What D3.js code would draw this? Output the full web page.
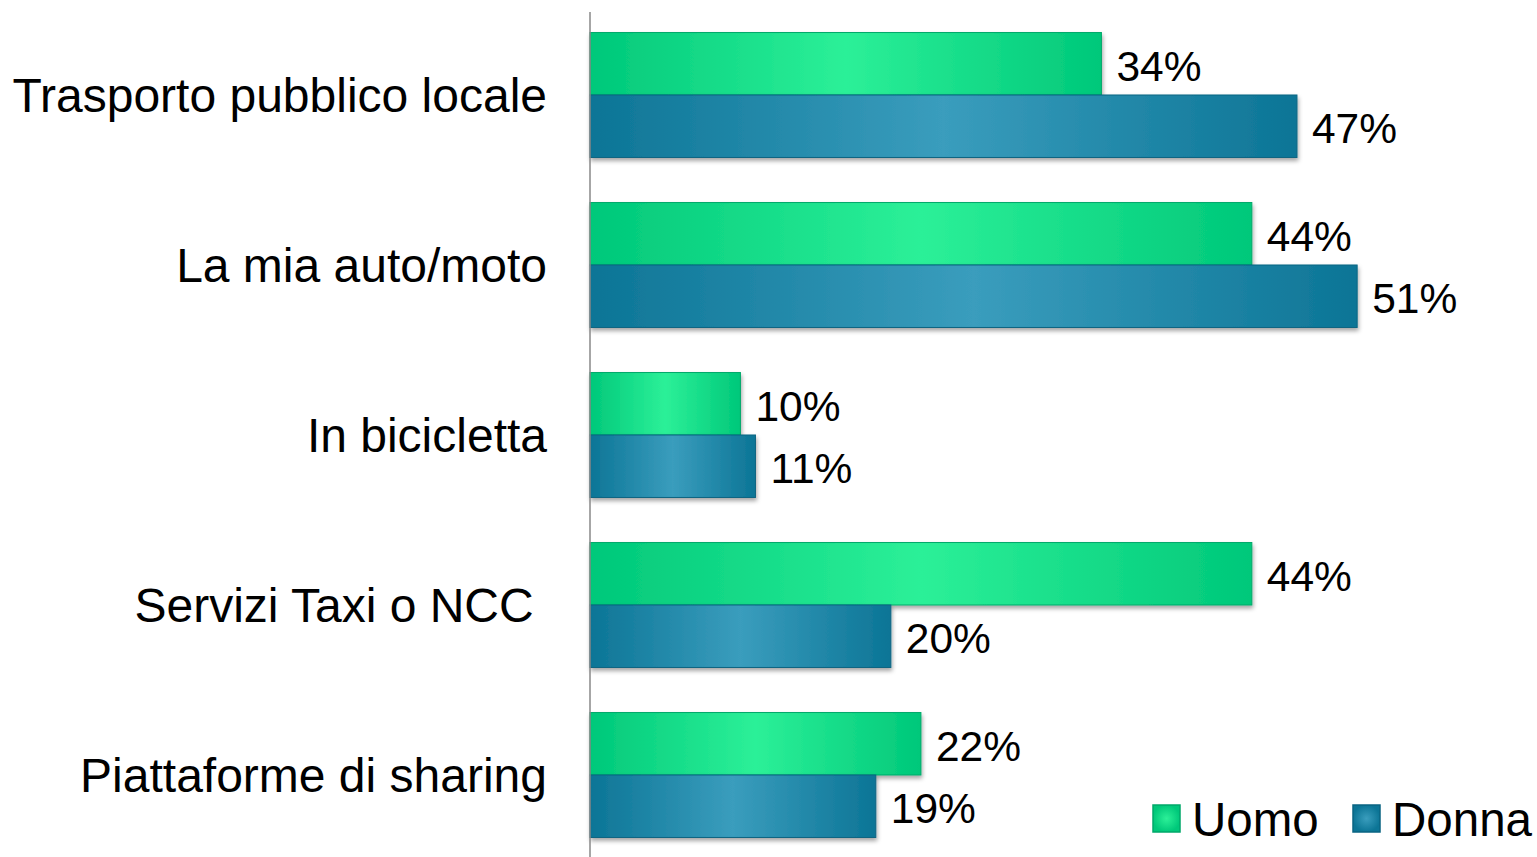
<!DOCTYPE html>
<html><head><meta charset="utf-8">
<script src="https://cdn.jsdelivr.net/npm/d3@7"></script>
<style>
html,body{margin:0;padding:0;background:#fff;}
svg{display:block;font-family:"Liberation Sans",Arial,sans-serif;}
</style></head>
<body>
<svg id="chart" width="1537" height="857"></svg>
<script>
const categories = ["Trasporto pubblico locale","La mia auto/moto","In bicicletta","Servizi Taxi o NCC ","Piattaforme di sharing"];
const seriesNames = ["Uomo","Donna"];
const uomo = [34,44,10,44,22];
const donna = [47,51,11,20,19];
const valueLabels = { Uomo: uomo.map(v=>v+"%"), Donna: donna.map(v=>v+"%") };

const svg = d3.select("#chart");
const defs = svg.append("defs");
function grad(id, edge, mid){
  const g = defs.append("linearGradient").attr("id",id).attr("x1","0%").attr("x2","100%").attr("y1","0%").attr("y2","0%");
  g.append("stop").attr("offset","0%").attr("stop-color",edge);
  g.append("stop").attr("offset","50%").attr("stop-color",mid);
  g.append("stop").attr("offset","100%").attr("stop-color",edge);
}
grad("gU","#00c87a","#2cf098");
grad("gD","#0c7596","#3a9dbd");
const rg1 = defs.append("radialGradient").attr("id","lU");
rg1.append("stop").attr("offset","0%").attr("stop-color","#2cf098");
rg1.append("stop").attr("offset","100%").attr("stop-color","#00c87a");
const rg2 = defs.append("radialGradient").attr("id","lD");
rg2.append("stop").attr("offset","0%").attr("stop-color","#3a9dbd");
rg2.append("stop").attr("offset","100%").attr("stop-color","#0c7596");
const f = defs.append("filter").attr("id","sh").attr("x","-5%").attr("y","-20%").attr("width","110%").attr("height","150%");
f.append("feDropShadow").attr("dx",1).attr("dy",3).attr("stdDeviation",2).attr("flood-color","#000").attr("flood-opacity",0.35);

const x = d3.scaleLinear().domain([0,60]).range([590, 590+902.5]);
const y = d3.scaleBand().domain(categories).range([10,860]).paddingInner(0.265).paddingOuter(0.1325);
const ys = d3.scaleBand().domain(seriesNames).range([0,y.bandwidth()]);

const fills = {Uomo:"url(#gU)", Donna:"url(#gD)"};
const strokes = {Uomo:"#00a86a", Donna:"#0a6482"};
const data = {Uomo: uomo, Donna: donna};

seriesNames.forEach(s=>{
  const g = svg.append("g");
  g.selectAll("rect").data(categories).join("rect")
    .attr("x", x(0))
    .attr("y", c=> y(c)+ys(s))
    .attr("width", (c,i)=> x(data[s][i]) - x(0))
    .attr("height", ys.bandwidth())
    .attr("fill", fills[s])
    .attr("stroke", strokes[s]).attr("stroke-width",1)
    .attr("filter","url(#sh)");
});
seriesNames.forEach(s=>{
  svg.append("g").selectAll("text").data(categories).join("text")
    .attr("x",(c,i)=> x(data[s][i]) + 15)
    .attr("y", c=> y(c)+ys(s)+ys.bandwidth()/2 + 17)
    .attr("font-size",42.5)
    .attr("fill","#000")
    .text((c,i)=> valueLabels[s][i]);
});

const yAxis = d3.axisLeft(y).tickSize(0).tickPadding(43);
const ag = svg.append("g").attr("transform",`translate(${x(0)},0)`).call(yAxis);
ag.select(".domain").attr("stroke","#888").attr("stroke-width",1.5).attr("d","M0,12V857");
ag.selectAll("text").attr("font-size",48).attr("fill","#000").attr("font-family","Liberation Sans, Arial, sans-serif")
  .style("white-space","pre").attr("dy","0.35em");

const leg = svg.append("g");
const legX = {Uomo:1153, Donna:1353};
seriesNames.forEach(s=>{
  leg.append("rect").attr("x",legX[s]).attr("y",805).attr("width",27).attr("height",27)
    .attr("fill", s==="Uomo"?"url(#lU)":"url(#lD)").attr("stroke",strokes[s]).attr("stroke-width",1.5);
  leg.append("text").attr("x",legX[s]+39).attr("y",836).attr("font-size",47.5).attr("fill","#000").text(s);
});
</script>
</body></html>
